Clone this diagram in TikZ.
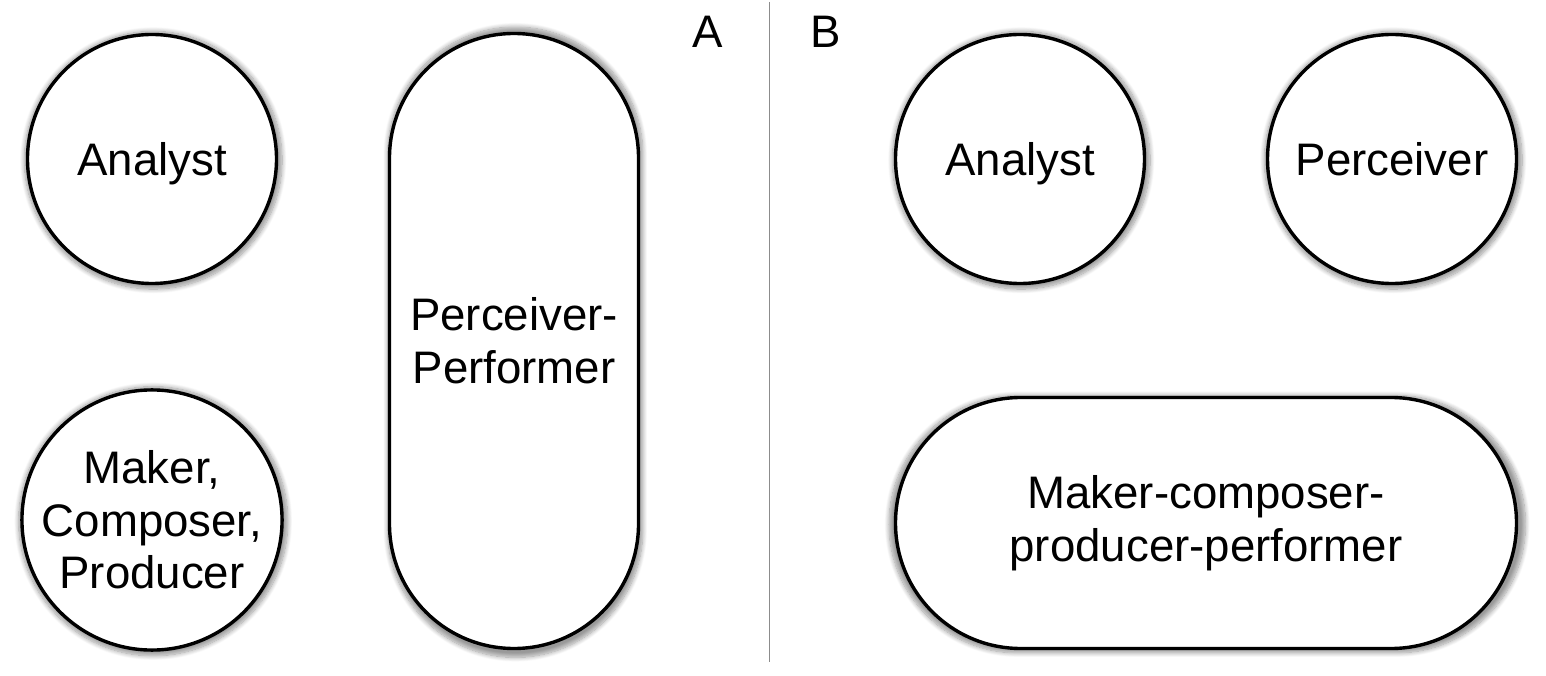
\documentclass[tikz,border=0pt]{standalone}
\usepackage{fontspec}
\setmainfont{Liberation Sans}
\usepackage{xcolor}
\usetikzlibrary{shadows.blur}
\definecolor{dividergray}{HTML}{8C8C8C}

\tikzset{
    roletext/.style={font=\fontsize{22.8}{26.3}\selectfont},
    oneline/.style={text height=16.3pt, text depth=0pt},
    rolecircle/.style={circle, draw, line width=1.7pt, fill=white, minimum size=124.5pt, inner sep=0pt, align=center, roletext,
        blur shadow={shadow xshift=0.6pt, shadow yshift=-0.6pt, shadow scale=1.035, shadow opacity=40, shadow blur steps=10}},
    rolepill/.style={rectangle, draw, line width=1.7pt, fill=white, inner sep=0pt, align=center, roletext,
        blur shadow={shadow xshift=0.6pt, shadow yshift=-0.6pt, shadow scale=1.025, shadow opacity=40, shadow blur steps=10}}
}

\begin{document}
\begin{tikzpicture}
    \useasboundingbox (0,0) rectangle (773pt,337.5pt);
    % panel A
    \node[rolecircle, oneline] (analystA) at (76pt,258pt) {Analyst};
    \node[rolecircle] (makerA) at (76pt,77.5pt) {Maker,\\Composer,\\Producer};
    \node[rolepill, minimum width=124.5pt, minimum height=307.5pt, rounded corners=62.2pt] 
        (perceiverA) at (257pt,167pt) {Perceiver-\\Performer};
    \node[roletext, oneline] (labelA) at (354pt,322pt) {A};
    % divider
    \coordinate (divtop) at (384.5pt,336.5pt);
    \coordinate (divbot) at (384.5pt,6.5pt);
    \draw[dividergray, line width=0.5pt] (divtop) -- (divbot);
    % panel B
    \node[roletext, oneline] (labelB) at (413pt,322pt) {B};
    \node[rolecircle, oneline] (analystB) at (510pt,258pt) {Analyst};
    \node[rolecircle, oneline] (perceiverB) at (696pt,258pt) {Perceiver};
    \node[rolepill, minimum width=310.5pt, minimum height=125.5pt, rounded corners=62.7pt] 
        (makerB) at (603pt,76pt) {Maker-composer-\\producer-performer};
\end{tikzpicture}
\end{document}
